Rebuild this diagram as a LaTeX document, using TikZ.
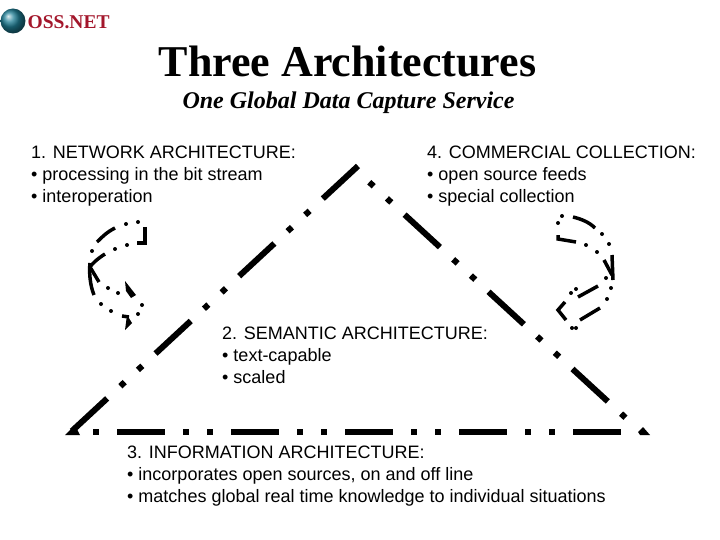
\documentclass[tikz,border=0pt]{standalone}
\usepackage{fontspec}
\setmainfont{Liberation Sans}
\newfontfamily\titlefont{Liberation Serif}
\definecolor{logored}{HTML}{A3162B}
\definecolor{logoblue}{HTML}{1F7F96}
\begin{document}
\begin{tikzpicture}[x=1pt,y=-1pt]
    \useasboundingbox (0,0) rectangle (720,540);
    \tikzset{bodytext/.style={anchor=west,align=left,inner sep=0pt,font=\fontsize{18}{22}\selectfont}}
    \tikzset{triline/.style={line width=6pt,dash pattern=on 48pt off 18pt on 6pt off 18pt on 6pt off 18pt}}
    \tikzset{curlline/.style={line width=3.5pt,line join=miter}}
    
    \shade[ball color=logoblue] (13,21) circle (12.5);
    \node[anchor=west,inner sep=0pt,text=logored,font=\titlefont\bfseries\fontsize{19.5}{22}\selectfont] (logo) at (27.5,22) {OSS.NET};
    
    \node[font=\titlefont\bfseries\fontsize{44}{48}\selectfont] (title) at (347.5,62) {Three Architectures};
    \node[font=\titlefont\bfseries\itshape\fontsize{24}{28}\selectfont] (subtitle) at (348.5,103) {One Global Data Capture Service};
    
    \node[bodytext] (network) at (31,176) {1. NETWORK ARCHITECTURE:\\• processing in the bit stream\\• interoperation};
    \node[bodytext] (commercial) at (427,176) {4. COMMERCIAL COLLECTION:\\• open source feeds\\• special collection};
    \node[bodytext] (semantic) at (222,355) {2. SEMANTIC ARCHITECTURE:\\• text-capable\\• scaled};
    \node[bodytext] (information) at (127,476) {3. INFORMATION ARCHITECTURE:\\• incorporates open sources, on and off line\\• matches global real time knowledge to individual situations};
    
    % triangle
    \coordinate (apexl) at (358,166);
    \coordinate (apexr) at (356,170);
    \coordinate (cornerl) at (59,443);
    \coordinate (cornerr) at (628,420);
    \begin{scope}
        \clip (0,0) rectangle (720,435);
        \draw[triline] (apexl) -- (cornerl);
        \draw[triline,dash phase=48pt] (apexr) -- (cornerr);
        \draw[triline,dash phase=71pt] (74,432) -- (630,432);
    \end{scope}
    \fill (65,435) -- (75,425) -- (80,435) -- cycle;
    \fill (638,432) -- (643,427) -- (650,435) -- (640,435) -- cycle;
    
    % left curl
    \draw[curlline] (115,228) .. controls (107,232) and (102,237) .. (97,242);
    \draw[curlline] (90,263) .. controls (89,273) and (90,285) .. (94,295);
    \draw[curlline] (105,254) .. controls (97,259) and (92,264) .. (90,267) -- (99,282);
    \draw[curlline] (145,227) -- (145,243) -- (137,243);
    \draw[curlline] (122,316) -- (129,317);
    \fill (125,281) -- (136,295) -- (131,298) -- (126,291) -- cycle;
    \fill (127,315) -- (132,323) -- (125,330) -- cycle;
    \foreach \dotx/\doty in {138/222,126/224,92/251,101/304,111/311,127/245,115/249,108/288,118/293,142/305,138/314}
        \fill (\dotx,\doty) circle (2);
    
    % right curl
    \draw[curlline] (573,217) .. controls (581,219) and (589,222) .. (595,228);
    \draw[curlline] (612,255) -- (613,280);
    \draw[curlline] (604,260) -- (612,275);
    \draw[curlline] (600,308) -- (580,320);
    \draw[curlline] (598,286) -- (578,297);
    \draw[curlline] (565,302) -- (558,310) -- (566,320);
    \draw[curlline] (558,235) -- (558,239) -- (576,242);
    \foreach \dotx/\doty in {562/216,558/223,602/234,609/244,597/252,586/245,606/278,611/288,607/299,576/328,572/328,576/289,571/293}
        \fill (\dotx,\doty) circle (2);
\end{tikzpicture}
\end{document}
